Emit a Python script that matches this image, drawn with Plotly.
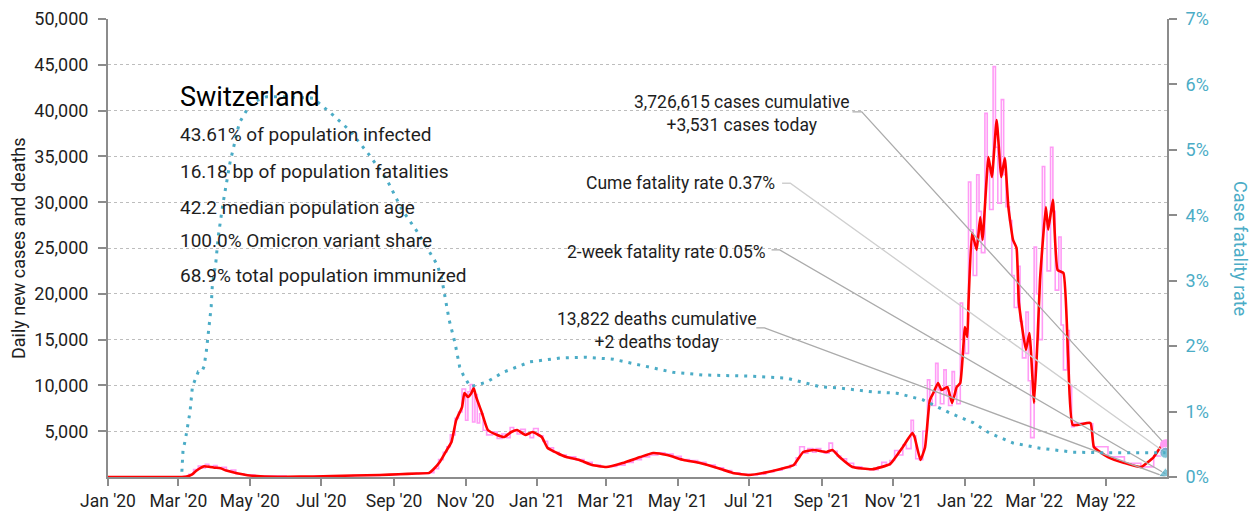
import plotly.graph_objects as go

# ---- Daily new cases (reported, step-like) ----
daily_dates = [
    "2020-01-01", "2020-02-25", "2020-03-01", "2020-03-06", "2020-03-10", "2020-03-14",
    "2020-03-18", "2020-03-21", "2020-03-24", "2020-03-27", "2020-03-31", "2020-04-03",
    "2020-04-07", "2020-04-11", "2020-04-15", "2020-04-19", "2020-04-26", "2020-05-05",
    "2020-06-01", "2020-06-25", "2020-07-10", "2020-07-28", "2020-08-20", "2020-09-05",
    "2020-09-20", "2020-10-01", "2020-10-05", "2020-10-09", "2020-10-13", "2020-10-16",
    "2020-10-19", "2020-10-23", "2020-10-26", "2020-10-29", "2020-11-01", "2020-11-03",
    "2020-11-05", "2020-11-07", "2020-11-09", "2020-11-11", "2020-11-13", "2020-11-16",
    "2020-11-19", "2020-11-24", "2020-11-28", "2020-12-02", "2020-12-06", "2020-12-09",
    "2020-12-12", "2020-12-15", "2020-12-18", "2020-12-22", "2020-12-26", "2020-12-29",
    "2021-01-02", "2021-01-06", "2021-01-10", "2021-01-15", "2021-01-20", "2021-01-26",
    "2021-02-03", "2021-02-10", "2021-02-17", "2021-02-24", "2021-03-03", "2021-03-10",
    "2021-03-17", "2021-03-24", "2021-03-31", "2021-04-07", "2021-04-14", "2021-04-20",
    "2021-04-27", "2021-05-04", "2021-05-11", "2021-05-18", "2021-05-25", "2021-06-02",
    "2021-06-09", "2021-06-16", "2021-06-23", "2021-07-01", "2021-07-08", "2021-07-15",
    "2021-07-22", "2021-07-29", "2021-08-05", "2021-08-10", "2021-08-13", "2021-08-17",
    "2021-08-20", "2021-08-24", "2021-08-27", "2021-08-31", "2021-09-03", "2021-09-07",
    "2021-09-10", "2021-09-14", "2021-09-17", "2021-09-22", "2021-09-28", "2021-10-05",
    "2021-10-12", "2021-10-19", "2021-10-22", "2021-10-26", "2021-10-29", "2021-11-02",
    "2021-11-05", "2021-11-09", "2021-11-12", "2021-11-16", "2021-11-18", "2021-11-20",
    "2021-11-23", "2021-11-26", "2021-11-30", "2021-12-02", "2021-12-04", "2021-12-07",
    "2021-12-09", "2021-12-11", "2021-12-14", "2021-12-16", "2021-12-18", "2021-12-21",
    "2021-12-23", "2021-12-25", "2021-12-28", "2021-12-30", "2022-01-01", "2022-01-04",
    "2022-01-06", "2022-01-08", "2022-01-11", "2022-01-13", "2022-01-15", "2022-01-18",
    "2022-01-20", "2022-01-22", "2022-01-25", "2022-01-27", "2022-01-29", "2022-02-01",
    "2022-02-03", "2022-02-05", "2022-02-08", "2022-02-10", "2022-02-12", "2022-02-15",
    "2022-02-17", "2022-02-19", "2022-02-22", "2022-02-24", "2022-02-26", "2022-03-01",
    "2022-03-03", "2022-03-05", "2022-03-08", "2022-03-10", "2022-03-12", "2022-03-15",
    "2022-03-17", "2022-03-19", "2022-03-22", "2022-03-24", "2022-03-26", "2022-03-29",
    "2022-03-31", "2022-04-02", "2022-04-04", "2022-04-18", "2022-04-20", "2022-05-03",
    "2022-05-17", "2022-05-31", "2022-06-11", "2022-06-17", "2022-06-21",
]
daily_cases = [
    0, 0, 10, 80, 300, 800,
    1200, 1000, 1400, 1150, 1250, 950,
    1050, 650, 750, 350, 250, 100,
    30, 70, 120, 170, 240, 320,
    400, 480, 900, 1900, 2700, 3300,
    4600, 6400, 7100, 9600, 6200, 9300,
    10100, 6000, 9000, 5900, 6900, 5100,
    4600, 4900, 4200, 4700, 4300, 5400,
    5000, 4700, 5200, 4700, 4300, 5300,
    4500, 3900, 3200, 2700, 2400, 2200,
    1900, 1600, 1300, 1100, 1150, 1300,
    1600, 1900, 2200, 2400, 2650, 2500,
    2250, 1900, 1800, 1600, 1300, 1000,
    700, 450, 300, 220, 300, 550,
    750, 1000, 1300, 2100, 3300, 2600,
    3100, 2700, 3100, 2800, 2600, 3700,
    2800, 2300, 2000, 1500, 1100, 900,
    800, 1100, 1600, 1300, 1800, 2900,
    2400, 3500, 3100, 6200, 4500, 2000,
    1900, 5000, 10600, 8500, 7800, 12400,
    9500, 8000, 11700, 9000, 7800, 11500,
    9500, 8000, 19000, 15000, 13500, 32200,
    27000, 22000, 33000, 29000, 24500, 39700,
    34000, 29200, 44800, 36000, 29900, 41200,
    33000, 29500, 28000, 22000, 18500, 23000,
    17000, 13000, 18000, 10500, 4300, 25100,
    20000, 15000, 33900, 28000, 22500, 36000,
    29000, 20400, 26200, 16600, 11700, 16000,
    10000, 5500, 5900, 5800, 3300, 2200,
    1500, 1100, 2300, 3400, 3531,
]

# ---- 7-day average of new cases ----
avg_dates = [
    "2020-01-01", "2020-02-25", "2020-03-01", "2020-03-08", "2020-03-12", "2020-03-16",
    "2020-03-20", "2020-03-23", "2020-03-28", "2020-04-01", "2020-04-06", "2020-04-11",
    "2020-04-20", "2020-04-29", "2020-05-10", "2020-06-01", "2020-06-25", "2020-07-10",
    "2020-07-28", "2020-08-20", "2020-09-05", "2020-09-20", "2020-10-01", "2020-10-04",
    "2020-10-10", "2020-10-16", "2020-10-20", "2020-10-24", "2020-10-29", "2020-10-31",
    "2020-11-03", "2020-11-06", "2020-11-08", "2020-11-10", "2020-11-15", "2020-11-20",
    "2020-11-28", "2020-12-04", "2020-12-10", "2020-12-15", "2020-12-22", "2020-12-28",
    "2021-01-05", "2021-01-10", "2021-01-18", "2021-01-26", "2021-02-06", "2021-02-17",
    "2021-03-01", "2021-03-15", "2021-03-30", "2021-04-10", "2021-04-22", "2021-05-06",
    "2021-05-20", "2021-06-04", "2021-06-17", "2021-07-01", "2021-07-17", "2021-07-31",
    "2021-08-08", "2021-08-16", "2021-08-25", "2021-09-05", "2021-09-10", "2021-09-16",
    "2021-09-27", "2021-10-14", "2021-10-29", "2021-11-09", "2021-11-17", "2021-11-19",
    "2021-11-24", "2021-11-28", "2021-12-02", "2021-12-05", "2021-12-09", "2021-12-12",
    "2021-12-17", "2021-12-21", "2021-12-25", "2021-12-28", "2022-01-01", "2022-01-03",
    "2022-01-04", "2022-01-07", "2022-01-11", "2022-01-14", "2022-01-16", "2022-01-21",
    "2022-01-24", "2022-01-28", "2022-02-01", "2022-02-04", "2022-02-07", "2022-02-11",
    "2022-02-14", "2022-02-16", "2022-02-22", "2022-02-25", "2022-03-01", "2022-03-04",
    "2022-03-06", "2022-03-11", "2022-03-13", "2022-03-17", "2022-03-21", "2022-03-26",
    "2022-03-30", "2022-04-03", "2022-04-18", "2022-04-21", "2022-05-03", "2022-05-17",
    "2022-05-31", "2022-06-11", "2022-06-17", "2022-06-21",
]
avg_cases = [
    0, 0, 5, 60, 220, 650,
    1000, 1180, 1100, 1020, 950, 700,
    400, 200, 80, 30, 60, 110,
    160, 220, 300, 380, 450, 760,
    1640, 2950, 3820, 6200, 7640, 9170,
    8740, 9170, 9720, 8740, 6990, 5130,
    4590, 4370, 4910, 5130, 4590, 4910,
    4370, 3170, 2620, 2180, 1860, 1310,
    1090, 1530, 2180, 2620, 2400, 1860,
    1530, 980, 440, 220, 550, 980,
    1310, 2730, 2950, 2730, 2950, 2180,
    1090, 850, 1400, 3280, 4800, 4370,
    1860, 3280, 8400, 9170, 10260, 9500,
    9830, 8080, 9830, 10260, 16380, 15290,
    19000, 26650, 24790, 28390, 25880, 34940,
    32760, 38980, 32760, 34830, 29480, 25880,
    25000, 19000, 13870, 15720, 8080, 15290,
    21510, 29480, 27000, 30250, 22600, 22280,
    13100, 5680, 5900, 3280, 2180, 1530,
    1090, 2180, 3280, 3531,
]

# ---- Case fatality rate (%) ----
cfr_dates = [
    "2020-03-04", "2020-03-05", "2020-03-07", "2020-03-09", "2020-03-11", "2020-03-13",
    "2020-03-15", "2020-03-18", "2020-03-21", "2020-03-23", "2020-03-25", "2020-03-27",
    "2020-03-29", "2020-03-30", "2020-04-02", "2020-04-04", "2020-04-08", "2020-04-14",
    "2020-04-22", "2020-05-02", "2020-05-15", "2020-06-01", "2020-06-24", "2020-07-11",
    "2020-07-25", "2020-08-11", "2020-08-26", "2020-09-08", "2020-09-20", "2020-10-08",
    "2020-10-12", "2020-10-14", "2020-10-18", "2020-10-23", "2020-10-27", "2020-10-30",
    "2020-11-05", "2020-11-19", "2020-12-03", "2020-12-26", "2021-01-21", "2021-02-12",
    "2021-03-07", "2021-03-30", "2021-04-27", "2021-05-22", "2021-07-04", "2021-08-02",
    "2021-08-30", "2021-09-16", "2021-10-15", "2021-11-04", "2021-11-26", "2021-12-19",
    "2022-01-08", "2022-01-22", "2022-02-11", "2022-03-06", "2022-04-03", "2022-05-02",
    "2022-06-21",
]
cfr_pct = [
    0.08, 0.41, 0.57, 0.80, 1.00, 1.38,
    1.48, 1.61, 1.61, 1.69, 1.94, 2.25,
    2.60, 2.93, 3.28, 3.67, 4.17, 4.80,
    5.41, 5.72, 5.81, 5.81, 5.79, 5.53,
    5.30, 4.92, 4.54, 4.08, 3.77, 3.24,
    3.00, 2.80, 2.40, 2.05, 1.68, 1.56,
    1.38, 1.45, 1.60, 1.76, 1.82, 1.83,
    1.80, 1.71, 1.60, 1.56, 1.54, 1.51,
    1.38, 1.36, 1.30, 1.28, 1.18, 0.98,
    0.83, 0.67, 0.52, 0.44, 0.38, 0.37,
    0.37,
]

# ---- Latest values ----
last_date = "2022-06-21"
cases_today = 3531
deaths_today = 2
cume_cfr = 0.37
two_week_cfr = 0.05

country = "Switzerland"
facts = [
    "43.61% of population infected",
    "16.18 bp of population fatalities",
    "42.2 median population age",
    "100.0% Omicron variant share",
    "68.9% total population immunized",
]

left_ticks = [5000, 10000, 15000, 20000, 25000, 30000, 35000, 40000, 45000, 50000]
right_ticks = [0, 1, 2, 3, 4, 5, 6, 7]

FONT = "Roboto, sans-serif"
TEAL = "#4BACC6"
PINK = "#FF9BF5"
RED = "#FF0000"
AXIS = "#8C8C8C"
LEADER = "#ABABAB"
LEADER_LIGHT = "#CFCFCF"
TXT = "#1E1E1E"

fig = go.Figure()

fig.add_trace(go.Scatter(
    x=daily_dates, y=daily_cases, mode="lines", line=dict(color=PINK, width=1.6, shape="hv"),
    hoverinfo="skip", showlegend=False))
fig.add_trace(go.Scatter(
    x=avg_dates, y=avg_cases, mode="lines", line=dict(color=RED, width=2.6, shape="spline", smoothing=0.4),
    hoverinfo="skip", showlegend=False))

# leader lines from the text labels to the latest values
fig.add_trace(go.Scatter(
    x=["2021-09-27", "2021-10-05", last_date], y=[39860, 39860, cases_today],
    mode="lines", line=dict(color=LEADER, width=1.3), hoverinfo="skip", showlegend=False))
fig.add_trace(go.Scatter(
    x=["2021-07-07", "2021-07-14", last_date], y=[16270, 16270, deaths_today],
    mode="lines", line=dict(color=LEADER, width=1.3), hoverinfo="skip", showlegend=False))
fig.add_trace(go.Scatter(
    x=["2021-07-29", "2021-08-05", last_date], y=[4.49, 4.49, cume_cfr], yaxis="y2",
    mode="lines", line=dict(color=LEADER_LIGHT, width=1.3), hoverinfo="skip", showlegend=False))
fig.add_trace(go.Scatter(
    x=["2021-07-20", "2021-07-27", last_date], y=[3.47, 3.47, two_week_cfr], yaxis="y2",
    mode="lines", line=dict(color=LEADER, width=1.3), hoverinfo="skip", showlegend=False))

fig.add_trace(go.Scatter(
    x=cfr_dates, y=cfr_pct, yaxis="y2", mode="lines",
    line=dict(color=TEAL, width=3, dash="3px,6px"), hoverinfo="skip", showlegend=False))

fig.add_trace(go.Scatter(
    x=[last_date], y=[cases_today], mode="markers",
    marker=dict(color=PINK, size=11, symbol="circle"), hoverinfo="skip", showlegend=False))
fig.add_trace(go.Scatter(
    x=[last_date, last_date], y=[cume_cfr, two_week_cfr], yaxis="y2", mode="markers",
    marker=dict(color=TEAL, size=[11, 12], symbol=["circle", "triangle-up"]),
    hoverinfo="skip", showlegend=False))

annotations = [
    dict(text=country, xref="paper", yref="paper", x=0.066, y=0.830, xanchor="left", yanchor="middle",
         showarrow=False, font=dict(family=FONT, size=27, color="#000000")),
]
fact_y = [0.7478, 0.6681, 0.5884, 0.5153, 0.4410]
for line, yy in zip(facts, fact_y):
    annotations.append(dict(text=line, xref="paper", yref="paper", x=0.066, y=yy, xanchor="left",
                            yanchor="middle", showarrow=False, font=dict(family=FONT, size=19, color=TXT)))

label_font = dict(family=FONT, size=17.5, color=TXT)
annotations += [
    dict(text="3,726,615 cases cumulative<br>+3,531 cases today", x="2021-06-25", y=39640,
         xanchor="center", yanchor="middle", align="center", showarrow=False, font=label_font),
    dict(text="Cume fatality rate 0.37%", x="2021-07-25", y=32100,
         xanchor="right", yanchor="middle", showarrow=False, font=label_font),
    dict(text="2-week fatality rate 0.05%", x="2021-07-17", y=24570,
         xanchor="right", yanchor="middle", showarrow=False, font=label_font),
    dict(text="13,822 deaths cumulative<br>+2 deaths today", x="2021-04-13", y=15940,
         xanchor="center", yanchor="middle", align="center", showarrow=False, font=label_font),
    dict(text="Daily new cases and deaths", xref="paper", yref="paper", x=0, y=0.5, xshift=-90,
         textangle=-90, showarrow=False, xanchor="center", yanchor="middle",
         font=dict(family=FONT, size=18, color=TXT)),
    dict(text="Case fatality rate", xref="paper", yref="paper", x=1, y=0.5, xshift=74,
         textangle=90, showarrow=False, xanchor="center", yanchor="middle",
         font=dict(family=FONT, size=18, color=TEAL)),
]

fig.update_layout(
    width=1257, height=517,
    margin=dict(l=108, r=90, t=19, b=40, autoexpand=False),
    paper_bgcolor="white", plot_bgcolor="white",
    font=dict(family=FONT, size=18, color=TXT),
    xaxis=dict(
        range=["2020-01-01", "2022-06-22 08:00"], automargin=False,
        tickmode="linear", tick0="2020-01-01", dtick="M2", tickformat="%b '%y", tickangle=0,
        ticks="outside", ticklen=7, tickcolor=AXIS, tickwidth=1.5,
        showline=True, linecolor=AXIS, linewidth=2, showgrid=False, zeroline=False,
        tickfont=dict(family=FONT, size=17.5, color=TXT),
    ),
    yaxis=dict(
        range=[0, 50000], automargin=False, tickmode="array", tickvals=left_ticks,
        ticktext=[f"{v:,}" for v in left_ticks], ticklabelstandoff=6,
        ticks="outside", ticklen=8, tickcolor=AXIS, tickwidth=1.5,
        showline=True, linecolor=AXIS, linewidth=2,
        showgrid=True, gridcolor="#BDBDBD", griddash="dot", gridwidth=1, zeroline=False,
        tickfont=dict(family=FONT, size=18, color=TXT),
    ),
    yaxis2=dict(
        range=[0, 7], automargin=False, overlaying="y", side="right", tickmode="array",
        tickvals=right_ticks, ticktext=[f"{v}%" for v in right_ticks], ticklabelstandoff=5,
        ticks="outside", ticklen=8, tickcolor=AXIS, tickwidth=1.5,
        showline=True, linecolor=AXIS, linewidth=2, showgrid=False, zeroline=False,
        tickfont=dict(family=FONT, size=18, color=TEAL),
    ),
    annotations=annotations,
)

fig.write_html("out.html")
